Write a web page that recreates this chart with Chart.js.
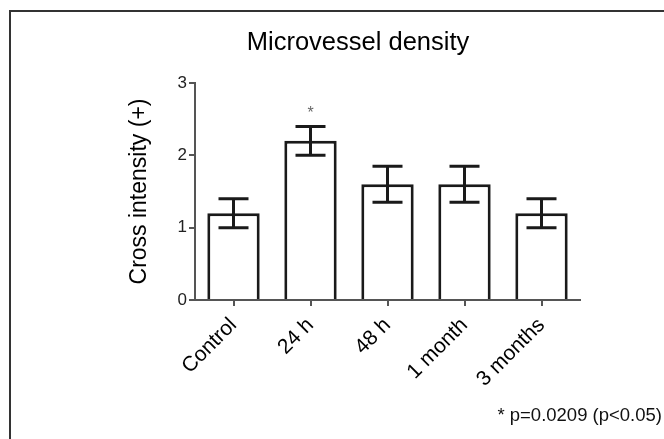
<!DOCTYPE html>
<html>
<head>
<meta charset="utf-8">
<script src="https://cdn.jsdelivr.net/npm/chart.js@4"></script>
<style>
  html, body { margin: 0; padding: 0; background: #fff; }
  #wrap { width: 664px; height: 439px; position: relative; }
</style>
</head>
<body>
<div id="wrap"><canvas id="mvd"></canvas></div>
<script>
// ------- Data -------
let categories = ["Control", "24 h", "48 h", "1 month", "3 months"];
let meanValues = [1.2, 2.2, 1.6, 1.6, 1.2];
let errLow = [1.0, 2.0, 1.35, 1.35, 1.0];
let errHigh = [1.4, 2.4, 1.85, 1.85, 1.4];
let sigMarks = ["", "*", "", "", ""];
let yTicks = [0, 1, 2, 3];

const FONT = "'Liberation Sans', Arial, Helvetica, sans-serif";

// frame, title, footnote
const decorPlugin = {
  id: "decor",
  beforeDraw(chart) {
    let ctx = chart.ctx;
    ctx.save();
    ctx.strokeStyle = "#333";
    ctx.lineWidth = 2;
    ctx.beginPath();
    ctx.moveTo(10, 439);
    ctx.lineTo(10, 11);
    ctx.lineTo(664, 11);
    ctx.stroke();
    ctx.restore();
  },
  afterDraw(chart) {
    let ctx = chart.ctx;
    ctx.save();
    ctx.fillStyle = "#000";
    ctx.font = "25.5px " + FONT;
    ctx.textAlign = "center";
    ctx.textBaseline = "middle";
    ctx.fillText("Microvessel density", 358, 43);

    ctx.fillStyle = "#111";
    ctx.font = "18.5px " + FONT;
    ctx.textAlign = "right";
    ctx.fillText("* p=0.0209 (p<0.05)", 662, 416);
    ctx.restore();
  },
};

// error bars + significance marks
const errorBarPlugin = {
  id: "errorBars",
  afterDatasetsDraw(chart) {
    let ctx = chart.ctx,
      yScale = chart.scales.y,
      meta = chart.getDatasetMeta(0);
    ctx.save();
    ctx.strokeStyle = "#1a1a1a";
    ctx.lineWidth = 3;
    meta.data.forEach((bar, i) => {
      let x = bar.x,
        top = yScale.getPixelForValue(errHigh[i]),
        bot = yScale.getPixelForValue(errLow[i]),
        half = 15;
      ctx.beginPath();
      ctx.moveTo(x, top);
      ctx.lineTo(x, bot);
      ctx.moveTo(x - half, top);
      ctx.lineTo(x + half, top);
      ctx.moveTo(x - half, bot);
      ctx.lineTo(x + half, bot);
      ctx.stroke();
      if (sigMarks[i]) {
        ctx.fillStyle = "#666";
        ctx.font = "16px " + FONT;
        ctx.textAlign = "center";
        ctx.textBaseline = "middle";
        ctx.fillText(sigMarks[i], x, yScale.getPixelForValue(errHigh[i] + 0.2) + 2);
      }
    });
    ctx.restore();
  },
};

new Chart("mvd", {
  type: "bar",
  data: {
    labels: categories,
    datasets: [
      {
        data: meanValues,
        backgroundColor: "#fff",
        borderColor: "#1a1a1a",
        borderWidth: 3,
        barPercentage: 0.68,
        categoryPercentage: 1,
      },
    ],
  },
  options: {
    responsive: true,
    maintainAspectRatio: false,
    animation: false,
    layout: { padding: { left: 110, right: 84, top: 83, bottom: 0 } },
    plugins: {
      legend: { display: false },
      tooltip: { enabled: false },
    },
    scales: {
      x: {
        grid: { display: true, drawOnChartArea: false, drawTicks: true, tickLength: 6, offset: false, color: "#555", lineWidth: 2 },
        border: { display: true, color: "#555", width: 2 },
        ticks: {
          color: "#000",
          font: { family: FONT, size: 21 },
          minRotation: 45,
          maxRotation: 45,
          autoSkip: false,
          padding: 7,
        },
        afterFit(scale) {
          scale.height = 139;
        },
      },
      y: {
        min: 0,
        max: 3,
        afterBuildTicks(scale) {
          scale.ticks = yTicks.map((v) => ({ value: v }));
        },
        grid: { display: true, drawOnChartArea: false, drawTicks: true, tickLength: 6, color: "#555", lineWidth: 2 },
        border: { display: true, color: "#555", width: 2 },
        ticks: {
          color: "#222",
          font: { family: FONT, size: 17 },
          padding: 2,
        },
        title: {
          display: true,
          text: "Cross intensity (+)",
          color: "#000",
          font: { family: FONT, size: 23 },
          padding: { top: 16, bottom: 0 },
        },
        afterFit(scale) {
          scale.width = 85;
        },
      },
    },
  },
  plugins: [decorPlugin, errorBarPlugin],
});
</script>
</body>
</html>
